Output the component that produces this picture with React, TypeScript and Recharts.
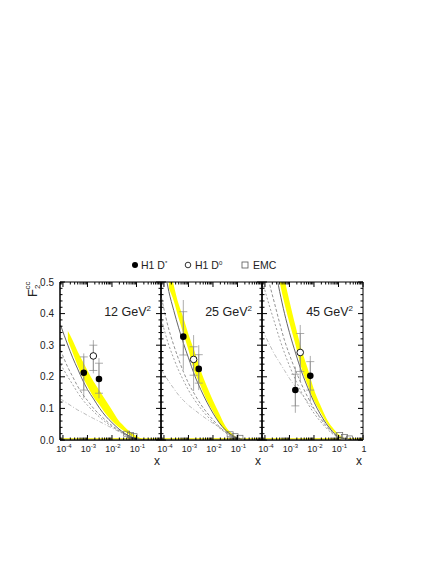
import React from 'react'
import {
  ComposedChart,
  Line,
  Area,
  Scatter,
  ErrorBar,
  XAxis,
  YAxis,
  ReferenceArea,
  ReferenceLine,
} from 'recharts'

const FONT = '"Liberation Sans", Arial, sans-serif'

// layout of the three panels (page pixels)
const PLOT_TOP = 282
const PLOT_H = 158
const PANEL_W = 101
const PANEL_LEFT = [60, 161, 262]
const M_TOP = 8
const M_RIGHT = 8
const X_AXIS_H = 30
const XMIN = -4.12

// log10(x) grid on which the theory curves were read
const xGrid = [-4.1, -3.8, -3.6, -3.4, -3.2, -3.0, -2.75, -2.5, -2.25, -2.0, -1.75, -1.5, -1.25, -1.0, -0.5, 0]

// Q2 = 12 GeV2
const solid12 = [0.364, 0.3, 0.26, 0.225, 0.19, 0.16, 0.13, 0.1, 0.075, 0.055, 0.037, 0.022, 0.011, 0.004, 0, 0]
const dashA12 = [0.285, 0.23, 0.2, 0.17, 0.145, 0.125, 0.1, 0.08, 0.062, 0.046, 0.032, 0.02, 0.01, 0.004, 0, 0]
const dashB12 = [0.24, 0.2, 0.175, 0.15, 0.128, 0.11, 0.09, 0.072, 0.056, 0.042, 0.03, 0.018, 0.009, 0.003, 0, 0]
const dotted12 = [0.13, 0.115, 0.105, 0.095, 0.087, 0.078, 0.068, 0.058, 0.048, 0.038, 0.028, 0.019, 0.01, 0.004, 0, 0]
const bandLo12 = [null, 0.315, 0.275, 0.235, 0.2, 0.17, 0.135, 0.11, 0.082, 0.06, 0.042, 0.028, 0.014, 0.005, 0, 0]
const bandHi12 = [null, 0.345, 0.315, 0.28, 0.25, 0.22, 0.185, 0.155, 0.125, 0.095, 0.064, 0.043, 0.025, 0.012, 0.001, 0]

// Q2 = 25 GeV2
const solid25 = [0.6, 0.47, 0.41, 0.355, 0.305, 0.26, 0.205, 0.16, 0.12, 0.085, 0.055, 0.032, 0.016, 0.006, 0, 0]
const dashA25 = [0.45, 0.35, 0.3, 0.255, 0.215, 0.18, 0.145, 0.113, 0.087, 0.064, 0.043, 0.026, 0.013, 0.005, 0, 0]
const dashB25 = [0.38, 0.3, 0.258, 0.22, 0.188, 0.158, 0.127, 0.1, 0.077, 0.057, 0.039, 0.024, 0.012, 0.004, 0, 0]
const dotted25 = [0.222, 0.185, 0.163, 0.142, 0.125, 0.11, 0.095, 0.08, 0.066, 0.053, 0.041, 0.028, 0.017, 0.008, 0.001, 0]
const bandLo25 = [null, 0.48, 0.44, 0.385, 0.335, 0.285, 0.215, 0.17, 0.125, 0.09, 0.055, 0.03, 0.015, 0.005, 0, 0]
const bandHi25 = [null, 0.56, 0.49, 0.43, 0.385, 0.335, 0.28, 0.22, 0.17, 0.125, 0.085, 0.045, 0.022, 0.008, 0.001, 0]

// Q2 = 45 GeV2
const solid45 = [0.8, 0.63, 0.55, 0.47, 0.4, 0.34, 0.275, 0.215, 0.165, 0.12, 0.083, 0.052, 0.027, 0.01, 0.001, 0]
const dashA45 = [0.6, 0.49, 0.43, 0.37, 0.315, 0.27, 0.22, 0.175, 0.135, 0.1, 0.07, 0.044, 0.023, 0.009, 0.001, 0]
const dashB45 = [0.5, 0.42, 0.37, 0.32, 0.275, 0.235, 0.19, 0.15, 0.115, 0.085, 0.06, 0.038, 0.02, 0.008, 0.001, 0]
const dotted45 = [0.348, 0.3, 0.27, 0.245, 0.22, 0.195, 0.168, 0.145, 0.12, 0.097, 0.073, 0.05, 0.03, 0.015, 0.002, 0]
const bandLo45 = [null, null, 0.58, 0.5, 0.43, 0.37, 0.3, 0.225, 0.172, 0.125, 0.09, 0.056, 0.03, 0.012, 0.001, 0]
const bandHi45 = [null, null, 0.7, 0.6, 0.51, 0.44, 0.36, 0.285, 0.225, 0.16, 0.112, 0.07, 0.04, 0.018, 0.002, 0]

// measurements: [log10 x, F2cc, stat down, stat up, total down, total up]
const dstar12 = [
  [-3.15, 0.213, 0.055, 0.05, 0.081, 0.061],
  [-2.53, 0.193, 0.045, 0.05, 0.061, 0.066],
]
const dzero12 = [[-2.76, 0.266, 0.046, 0.034, 0.055, 0.05]]
const dstar25 = [
  [-3.21, 0.327, 0.058, 0.079, 0.105, 0.116],
  [-2.58, 0.225, 0.045, 0.045, 0.067, 0.075],
]
const dzero25 = [[-2.79, 0.255, 0.05, 0.04, 0.1, 0.077]]
const dstar45 = [
  [-2.76, 0.158, 0.05, 0.05, 0.072, 0.074],
  [-2.15, 0.203, 0.045, 0.045, 0.082, 0.063],
]
const dzero45 = [[-2.56, 0.277, 0.06, 0.06, 0.092, 0.087]]

// EMC: [log10 x, F2cc]
const emc12 = [[-1.4, 0.02], [-1.25, 0.016], [-1.1, 0.012]]
const emc25 = [[-1.3, 0.018], [-1.1, 0.012], [-0.9, 0.007]]
const emc45 = [[-0.95, 0.016], [-0.75, 0.01], [-0.55, 0.005]]

const q2Labels = ['12', '25', '45']

const yTicks = [
  0, 0.02, 0.04, 0.06, 0.08, 0.1, 0.12, 0.14, 0.16, 0.18, 0.2, 0.22, 0.24, 0.26,
  0.28, 0.3, 0.32, 0.34, 0.36, 0.38, 0.4, 0.42, 0.44, 0.46, 0.48, 0.5,
]
const yLabels = [0, 0.1, 0.2, 0.3, 0.4, 0.5]
const xDecades = [-5, -4, -3, -2, -1, 0]
const xMinorSteps = [2, 3, 4, 5, 6, 7, 8, 9]
const xTicks = xDecades
  .flatMap((d) => [d, ...xMinorSteps.map((k) => d + Math.log10(k))])
  .filter((v) => v >= XMIN && v <= 0)

const panels = [
  { solid: solid12, dashA: dashA12, dashB: dashB12, dotted: dotted12, lo: bandLo12, hi: bandHi12, dstar: dstar12, dzero: dzero12, emc: emc12 },
  { solid: solid25, dashA: dashA25, dashB: dashB25, dotted: dotted25, lo: bandLo25, hi: bandHi25, dstar: dstar25, dzero: dzero25, emc: emc25 },
  { solid: solid45, dashA: dashA45, dashB: dashB45, dotted: dotted45, lo: bandLo45, hi: bandHi45, dstar: dstar45, dzero: dzero45, emc: emc45 },
]

const toPoints = (rows: number[][]) =>
  rows.map(([lx, f2, sd, su, td, tu]) => ({ lx, f2, stat: [sd, su], tot: [td, tu] }))

const isMajor = (v: number) => Math.abs(v - Math.round(v)) < 1e-6

const makeXTick = (showOne: boolean) => (props: any) => {
  const { x, y, payload } = props
  const v = payload.value
  const len = isMajor(v) ? 5 : 2.5
  const dec = Math.round(v)
  return (
    <g>
      <line x1={x} x2={x} y1={y} y2={y - len} stroke="#000" />
      <line x1={x} x2={x} y1={y - PLOT_H} y2={y - PLOT_H + len} stroke="#000" />
      {isMajor(v) && (dec < 0 || showOne) && (
        <text x={x + 1} y={y + 12} textAnchor="middle" fontSize={9} fill="#222" fontFamily={FONT}>
          {dec < 0 ? (
            <>
              10
              <tspan fontSize={6} dy={-4}>
                {dec}
              </tspan>
            </>
          ) : (
            '1'
          )}
        </text>
      )}
    </g>
  )
}

const makeYTick = (showLabels: boolean) => (props: any) => {
  const { x, y, payload } = props
  const v = payload.value
  const major = yLabels.some((t) => Math.abs(t - v) < 1e-6)
  const len = major ? 5 : 2.5
  return (
    <g>
      <line x1={x} x2={x + len} y1={y} y2={y} stroke="#000" />
      <line x1={x + PANEL_W} x2={x + PANEL_W - len} y1={y} y2={y} stroke="#000" />
      {showLabels && major && (
        <text x={x - 6} y={y + 3.5} textAnchor="end" fontSize={10} fill="#222" fontFamily={FONT}>
          {v.toFixed(1)}
        </text>
      )}
    </g>
  )
}

const FilledDot = (p: any) => <circle cx={p.cx} cy={p.cy} r={3.3} fill="#000" />
const OpenDot = (p: any) => <circle cx={p.cx} cy={p.cy} r={3.3} fill="#fff" stroke="#000" strokeWidth={0.9} />
const OpenSquare = (p: any) => (
  <rect x={p.cx - 3} y={p.cy - 2.5} width={6} height={5} fill="none" stroke="#666" strokeWidth={0.7} />
)

function Panel({ index }: { index: number }) {
  const p = panels[index]
  const yW = index === 0 ? 40 : 6
  const data = xGrid.map((lx, i) => ({
    lx,
    solid: p.solid[i],
    dashA: p.dashA[i],
    dashB: p.dashB[i],
    dotted: p.dotted[i],
    band: p.lo[i] == null ? null : [p.lo[i], p.hi[i]],
  }))
  return (
    <div style={{ position: 'absolute', left: PANEL_LEFT[index] - yW, top: PLOT_TOP - M_TOP }}>
      <ComposedChart
        width={yW + PANEL_W + M_RIGHT}
        height={M_TOP + PLOT_H + X_AXIS_H}
        data={data}
        margin={{ top: M_TOP, right: M_RIGHT, bottom: 0, left: 0 }}
      >
        <XAxis
          type="number"
          dataKey="lx"
          domain={[XMIN, 0]}
          ticks={xTicks}
          interval={0}
          allowDataOverflow
          height={X_AXIS_H}
          tickSize={0}
          tickMargin={0}
          tickLine={false}
          axisLine={{ stroke: '#000' }}
          tick={makeXTick(index === 2)}
        />
        <YAxis
          type="number"
          domain={[0, 0.5]}
          ticks={yTicks}
          interval={0}
          allowDataOverflow
          width={yW}
          tickSize={0}
          tickMargin={0}
          tickLine={false}
          axisLine={{ stroke: '#000' }}
          tick={makeYTick(index === 0)}
        />
        <Area
          dataKey="band"
          type="monotone"
          fill="#ffff00"
          fillOpacity={1}
          stroke="none"
          isAnimationActive={false}
        />
        <ReferenceLine y={0.004} stroke="#e8e000" strokeWidth={1} />
        <Line dataKey="dotted" type="monotone" stroke="#aaa" strokeWidth={0.8} strokeDasharray="4 2 1 2" dot={false} isAnimationActive={false} />
        <Line dataKey="dashB" type="monotone" stroke="#888" strokeWidth={0.8} strokeDasharray="2 2" dot={false} isAnimationActive={false} />
        <Line dataKey="dashA" type="monotone" stroke="#777" strokeWidth={0.8} strokeDasharray="3 2" dot={false} isAnimationActive={false} />
        <Line dataKey="solid" type="monotone" stroke="#555" strokeWidth={0.9} dot={false} isAnimationActive={false} />
        <Scatter data={p.emc.map(([lx, f2]) => ({ lx, f2 }))} dataKey="f2" shape={OpenSquare} isAnimationActive={false} />
        <Scatter data={toPoints(p.dzero)} dataKey="f2" shape={OpenDot} isAnimationActive={false}>
          <ErrorBar dataKey="tot" direction="y" width={0} stroke="#888" strokeWidth={0.7} />
          <ErrorBar dataKey="stat" direction="y" width={4} stroke="#888" strokeWidth={0.7} />
        </Scatter>
        <Scatter data={toPoints(p.dstar)} dataKey="f2" shape={FilledDot} isAnimationActive={false}>
          <ErrorBar dataKey="tot" direction="y" width={0} stroke="#888" strokeWidth={0.7} />
          <ErrorBar dataKey="stat" direction="y" width={4} stroke="#888" strokeWidth={0.7} />
        </Scatter>
        <ReferenceArea x1={XMIN} x2={0} y1={0} y2={0.5} fill="none" stroke="#000" strokeWidth={1} ifOverflow="visible" />
      </ComposedChart>
    </div>
  )
}

export default function App() {
  const txt = { fontFamily: FONT, fill: '#222' }
  return (
    <div style={{ position: 'absolute', left: 0, top: 0, width: 436, height: 564, background: '#fff' }}>
      {panels.map((_, i) => (
        <Panel key={i} index={i} />
      ))}
      <svg width={436} height={564} style={{ position: 'absolute', left: 0, top: 0, pointerEvents: 'none' }}>
        {/* legend */}
        <circle cx={135} cy={265} r={3} fill="#000" />
        <text x={141} y={269} fontSize={10.5} {...txt}>
          H1 D<tspan fontSize={6} dy={-4}>*</tspan>
        </text>
        <circle cx={188} cy={265} r={2.8} fill="#fff" stroke="#000" strokeWidth={0.8} />
        <text x={195} y={269} fontSize={10.5} {...txt}>
          H1 D<tspan fontSize={6} dy={-4}>0</tspan>
        </text>
        <rect x={242} y={262} width={6} height={6} fill="none" stroke="#555" strokeWidth={0.8} />
        <text x={253} y={269} fontSize={10.5} {...txt}>
          EMC
        </text>
        {/* Q2 labels */}
        {q2Labels.map((q, i) => (
          <text key={q} x={PANEL_LEFT[i] + PANEL_W - 10} y={316} textAnchor="end" fontSize={12.5} {...txt}>
            {q} GeV<tspan fontSize={8} dy={-5}>2</tspan>
          </text>
        ))}
        {/* x labels */}
        {PANEL_LEFT.map((l, i) => (
          <text key={i} x={l + PANEL_W - 4} y={465} textAnchor="middle" fontSize={12} {...txt}>
            x
          </text>
        ))}
        {/* y label */}
        <text transform="translate(37 297) rotate(-90)" fontSize={13} {...txt}>
          F<tspan fontSize={8} dy={3}>2</tspan>
          <tspan fontSize={8} dx={-5} dy={-10}>cc</tspan>
        </text>
      </svg>
    </div>
  )
}
